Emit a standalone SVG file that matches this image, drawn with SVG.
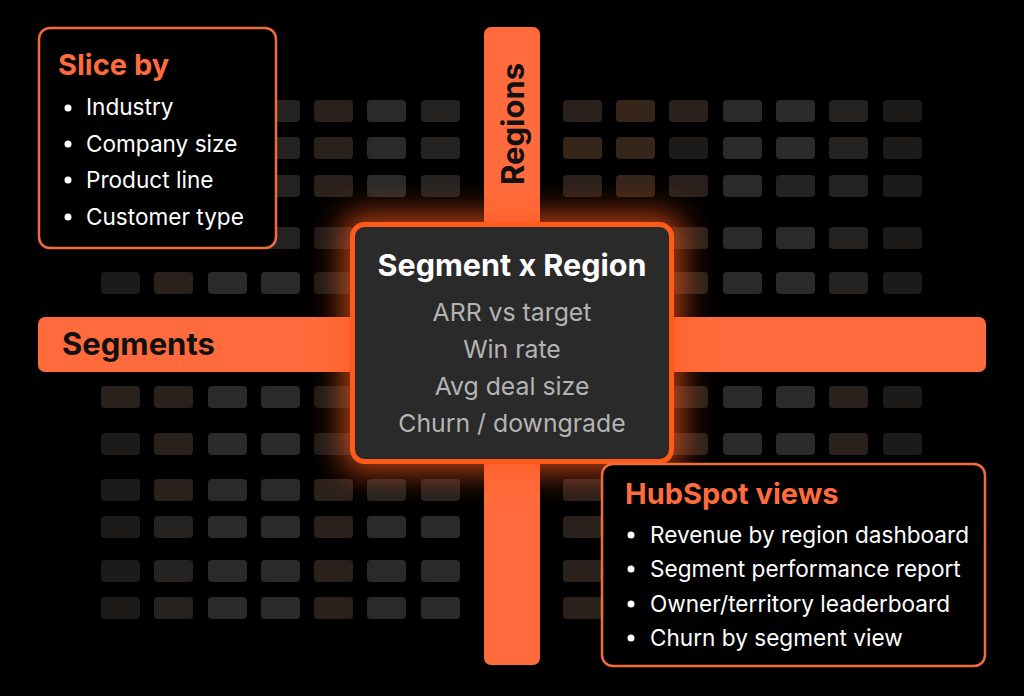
<svg xmlns="http://www.w3.org/2000/svg" width="1024" height="696" viewBox="0 0 1024 696">
<defs>
<style>
.c1{fill:#2a2a2a}.c2{fill:#2b211c}.c3{fill:#1c1b1a}.c4{fill:#362519}.c5{fill:#242322}
.bar{fill:#ff6b3d}
.card{fill:#000;stroke:#f26b3a;stroke-width:2.5}
.ttl{font-family:Inter,"Liberation Sans",sans-serif;font-weight:700;font-size:29px;fill:#ff6b3d}
.li{font-family:Inter,"Liberation Sans",sans-serif;font-size:22.6px;fill:#fff}
.axis{font-family:Inter,"Liberation Sans",sans-serif;font-weight:700;font-size:31px;fill:#111}
.ctr{font-family:Inter,"Liberation Sans",sans-serif;font-weight:700;font-size:30.5px;fill:#fff}
.met{font-family:Inter,"Liberation Sans",sans-serif;font-size:24.8px;fill:#b4b4b4}
</style>
<filter id="glow" x="-30%" y="-30%" width="160%" height="160%"><feGaussianBlur stdDeviation="16"/></filter>
</defs>
<rect width="1024" height="696" fill="#000"/>
<g id="grid">
<rect x="261" y="100" width="39" height="22" rx="4" class="c5"/>
<rect x="314" y="100" width="39" height="22" rx="4" class="c2"/>
<rect x="367" y="100" width="39" height="22" rx="4" class="c1"/>
<rect x="421" y="100" width="39" height="22" rx="4" class="c5"/>
<rect x="563" y="100" width="39" height="22" rx="4" class="c2"/>
<rect x="616" y="100" width="39" height="22" rx="4" class="c4"/>
<rect x="669" y="100" width="39" height="22" rx="4" class="c2"/>
<rect x="723" y="100" width="39" height="22" rx="4" class="c1"/>
<rect x="776" y="100" width="39" height="22" rx="4" class="c1"/>
<rect x="829" y="100" width="39" height="22" rx="4" class="c5"/>
<rect x="883" y="100" width="39" height="22" rx="4" class="c3"/>
<rect x="261" y="137" width="39" height="22" rx="4" class="c5"/>
<rect x="314" y="137" width="39" height="22" rx="4" class="c2"/>
<rect x="367" y="137" width="39" height="22" rx="4" class="c1"/>
<rect x="421" y="137" width="39" height="22" rx="4" class="c5"/>
<rect x="563" y="137" width="39" height="22" rx="4" class="c4"/>
<rect x="616" y="137" width="39" height="22" rx="4" class="c4"/>
<rect x="669" y="137" width="39" height="22" rx="4" class="c3"/>
<rect x="723" y="137" width="39" height="22" rx="4" class="c1"/>
<rect x="776" y="137" width="39" height="22" rx="4" class="c1"/>
<rect x="829" y="137" width="39" height="22" rx="4" class="c5"/>
<rect x="883" y="137" width="39" height="22" rx="4" class="c3"/>
<rect x="261" y="175" width="39" height="22" rx="4" class="c5"/>
<rect x="314" y="175" width="39" height="22" rx="4" class="c2"/>
<rect x="367" y="175" width="39" height="22" rx="4" class="c1"/>
<rect x="421" y="175" width="39" height="22" rx="4" class="c5"/>
<rect x="563" y="175" width="39" height="22" rx="4" class="c2"/>
<rect x="616" y="175" width="39" height="22" rx="4" class="c4"/>
<rect x="669" y="175" width="39" height="22" rx="4" class="c2"/>
<rect x="723" y="175" width="39" height="22" rx="4" class="c1"/>
<rect x="776" y="175" width="39" height="22" rx="4" class="c5"/>
<rect x="829" y="175" width="39" height="22" rx="4" class="c5"/>
<rect x="883" y="175" width="39" height="22" rx="4" class="c3"/>
<rect x="261" y="227" width="39" height="22" rx="4" class="c5"/>
<rect x="314" y="227" width="39" height="22" rx="4" class="c3"/>
<rect x="669" y="227" width="39" height="22" rx="4" class="c2"/>
<rect x="723" y="227" width="39" height="22" rx="4" class="c1"/>
<rect x="776" y="227" width="39" height="22" rx="4" class="c1"/>
<rect x="829" y="227" width="39" height="22" rx="4" class="c5"/>
<rect x="883" y="227" width="39" height="22" rx="4" class="c3"/>
<rect x="101" y="272" width="39" height="22" rx="4" class="c3"/>
<rect x="154" y="272" width="39" height="22" rx="4" class="c2"/>
<rect x="208" y="272" width="39" height="22" rx="4" class="c1"/>
<rect x="261" y="272" width="39" height="22" rx="4" class="c1"/>
<rect x="314" y="272" width="39" height="22" rx="4" class="c3"/>
<rect x="669" y="272" width="39" height="22" rx="4" class="c2"/>
<rect x="723" y="272" width="39" height="22" rx="4" class="c1"/>
<rect x="776" y="272" width="39" height="22" rx="4" class="c1"/>
<rect x="829" y="272" width="39" height="22" rx="4" class="c5"/>
<rect x="883" y="272" width="39" height="22" rx="4" class="c3"/>
<rect x="101" y="386" width="39" height="22" rx="4" class="c2"/>
<rect x="154" y="386" width="39" height="22" rx="4" class="c2"/>
<rect x="208" y="386" width="39" height="22" rx="4" class="c1"/>
<rect x="261" y="386" width="39" height="22" rx="4" class="c1"/>
<rect x="314" y="386" width="39" height="22" rx="4" class="c3"/>
<rect x="669" y="386" width="39" height="22" rx="4" class="c2"/>
<rect x="723" y="386" width="39" height="22" rx="4" class="c1"/>
<rect x="776" y="386" width="39" height="22" rx="4" class="c1"/>
<rect x="829" y="386" width="39" height="22" rx="4" class="c2"/>
<rect x="883" y="386" width="39" height="22" rx="4" class="c3"/>
<rect x="101" y="433" width="39" height="22" rx="4" class="c3"/>
<rect x="154" y="433" width="39" height="22" rx="4" class="c2"/>
<rect x="208" y="433" width="39" height="22" rx="4" class="c1"/>
<rect x="261" y="433" width="39" height="22" rx="4" class="c1"/>
<rect x="314" y="433" width="39" height="22" rx="4" class="c3"/>
<rect x="669" y="433" width="39" height="22" rx="4" class="c2"/>
<rect x="723" y="433" width="39" height="22" rx="4" class="c1"/>
<rect x="776" y="433" width="39" height="22" rx="4" class="c1"/>
<rect x="829" y="433" width="39" height="22" rx="4" class="c2"/>
<rect x="883" y="433" width="39" height="22" rx="4" class="c3"/>
<rect x="101" y="479" width="39" height="22" rx="4" class="c3"/>
<rect x="154" y="479" width="39" height="22" rx="4" class="c2"/>
<rect x="208" y="479" width="39" height="22" rx="4" class="c1"/>
<rect x="261" y="479" width="39" height="22" rx="4" class="c1"/>
<rect x="314" y="479" width="39" height="22" rx="4" class="c2"/>
<rect x="367" y="479" width="39" height="22" rx="4" class="c5"/>
<rect x="421" y="479" width="39" height="22" rx="4" class="c5"/>
<rect x="563" y="479" width="39" height="22" rx="4" class="c2"/>
<rect x="101" y="516" width="39" height="22" rx="4" class="c3"/>
<rect x="154" y="516" width="39" height="22" rx="4" class="c5"/>
<rect x="208" y="516" width="39" height="22" rx="4" class="c1"/>
<rect x="261" y="516" width="39" height="22" rx="4" class="c1"/>
<rect x="314" y="516" width="39" height="22" rx="4" class="c2"/>
<rect x="367" y="516" width="39" height="22" rx="4" class="c1"/>
<rect x="421" y="516" width="39" height="22" rx="4" class="c1"/>
<rect x="563" y="516" width="39" height="22" rx="4" class="c2"/>
<rect x="101" y="560" width="39" height="22" rx="4" class="c3"/>
<rect x="154" y="560" width="39" height="22" rx="4" class="c5"/>
<rect x="208" y="560" width="39" height="22" rx="4" class="c1"/>
<rect x="261" y="560" width="39" height="22" rx="4" class="c1"/>
<rect x="314" y="560" width="39" height="22" rx="4" class="c2"/>
<rect x="367" y="560" width="39" height="22" rx="4" class="c1"/>
<rect x="421" y="560" width="39" height="22" rx="4" class="c1"/>
<rect x="563" y="560" width="39" height="22" rx="4" class="c2"/>
<rect x="101" y="597" width="39" height="22" rx="4" class="c3"/>
<rect x="154" y="597" width="39" height="22" rx="4" class="c5"/>
<rect x="208" y="597" width="39" height="22" rx="4" class="c1"/>
<rect x="261" y="597" width="39" height="22" rx="4" class="c1"/>
<rect x="314" y="597" width="39" height="22" rx="4" class="c2"/>
<rect x="367" y="597" width="39" height="22" rx="4" class="c1"/>
<rect x="421" y="597" width="39" height="22" rx="4" class="c1"/>
<rect x="563" y="597" width="39" height="22" rx="4" class="c2"/>
</g>
<g id="segments-axis">
<rect x="38" y="317" width="948" height="55" rx="7" class="bar"/>
<text x="62" y="355" class="axis">Segments</text>
</g>
<g id="regions-axis">
<rect x="484" y="27" width="56" height="638" rx="7" class="bar"/>
<text x="0" y="0" class="axis" font-size="32" text-anchor="middle" transform="translate(524 124) rotate(-90)">Regions</text>
</g>
<g id="connectors"></g>
<g id="slice-by">
<rect x="39" y="28" width="237" height="220" rx="11" class="card"/>
<text x="58" y="75" class="ttl">Slice by</text>
<circle cx="68" cy="108" r="3.5" fill="#fff"/>
<text x="86" y="115" class="li">Industry</text>
<circle cx="68" cy="144" r="3.5" fill="#fff"/>
<text x="86" y="152" class="li">Company size</text>
<circle cx="68" cy="180" r="3.5" fill="#fff"/>
<text x="86" y="188" class="li">Product line</text>
<circle cx="68" cy="217" r="3.5" fill="#fff"/>
<text x="86" y="225" class="li">Customer type</text>
</g>
<g id="segment-x-region">
<rect x="343" y="215" width="338" height="256" rx="14" fill="#ff5a1a" opacity="0.75" filter="url(#glow)"/>
<rect x="352.5" y="224.5" width="319" height="237" rx="12" fill="#2a2a2a" stroke="#ff5a1a" stroke-width="5"/>
<text x="512" y="276" class="ctr" text-anchor="middle">Segment x Region</text>
<text x="512" y="321" class="met" text-anchor="middle">ARR vs target</text>
<text x="512" y="358" class="met" text-anchor="middle">Win rate</text>
<text x="512" y="395" class="met" text-anchor="middle">Avg deal size</text>
<text x="512" y="432" class="met" text-anchor="middle">Churn / downgrade</text>
</g>
<g id="hubspot-views">
<rect x="602" y="464" width="383" height="202" rx="11" class="card"/>
<text x="625" y="504" class="ttl">HubSpot views</text>
<circle cx="631" cy="535" r="3.5" fill="#fff"/>
<text x="650" y="543" class="li">Revenue by region dashboard</text>
<circle cx="631" cy="569" r="3.5" fill="#fff"/>
<text x="650" y="577" class="li">Segment performance report</text>
<circle cx="631" cy="604" r="3.5" fill="#fff"/>
<text x="650" y="612" class="li">Owner/territory leaderboard</text>
<circle cx="631" cy="638" r="3.5" fill="#fff"/>
<text x="650" y="646" class="li">Churn by segment view</text>
</g>
</svg>
